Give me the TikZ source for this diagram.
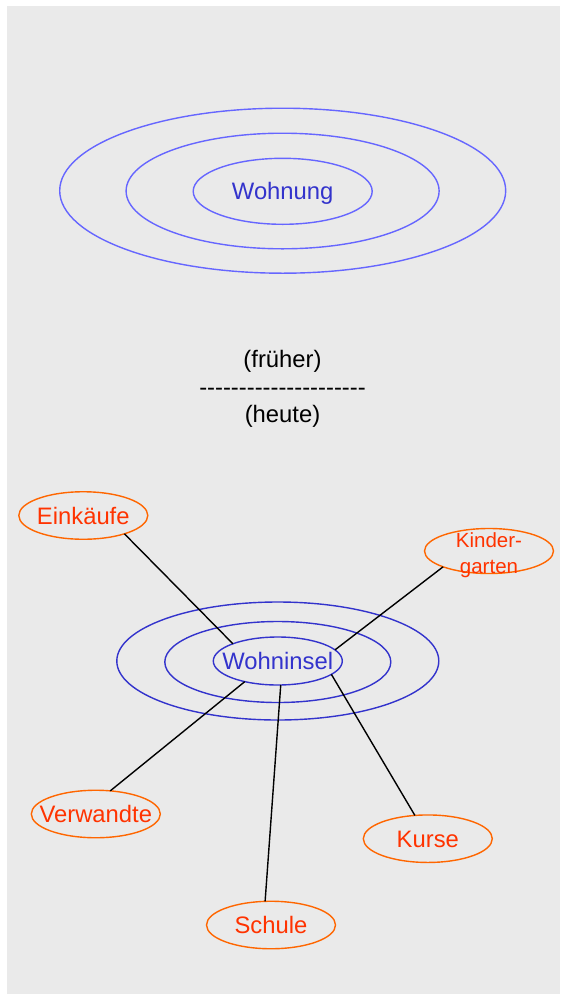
\documentclass[tikz,border=0pt]{standalone}
\usepackage{fontspec}
\newfontfamily\arialfont{Liberation Sans}
\usetikzlibrary{shapes.geometric}
\definecolor{bggray}{HTML}{EAEAEA}
\definecolor{lightblue}{HTML}{6666FF}
\definecolor{darkblue}{HTML}{3333CC}
\definecolor{orangeline}{HTML}{FF6600}
\definecolor{orangetext}{HTML}{FF3300}
\newcommand\zw[1]{\makebox[0pt]{#1}}
\tikzset{
  ring/.style={ellipse, draw, line width=1.4pt, inner sep=0pt, outer sep=0pt, fill=none},
  toprings/.style={ring, draw=lightblue},
  botrings/.style={ring, draw=darkblue},
  bigtext/.style={font=\arialfont\fontsize{23.8}{28}\selectfont, text height=17pt, text depth=0pt},
  topic/.style={ring, bigtext, draw=orangeline, text=orangetext, minimum width=129pt, minimum height=47.5pt},
  caption/.style={font=\arialfont\fontsize{23.8}{28}\selectfont, anchor=base, inner sep=0pt},
  link/.style={line width=1.4pt, black}
}
\begin{document}
\begin{tikzpicture}[x=1pt,y=-1pt]
\useasboundingbox (0,0) rectangle (560,994);
\fill[bggray] (7,6) rectangle (560,994);

% top: Wohnung
\node[toprings, minimum width=446pt, minimum height=165pt] (wA) at (282.7,190.7) {};
\node[toprings, minimum width=313pt, minimum height=115.6pt] (wB) at (282.6,191) {};
\node[toprings, bigtext, minimum width=179pt, minimum height=66pt, text=darkblue] (wC) at (282.7,191.3) {\zw{Wohnung}};

% middle captions
\node[caption] (fr) at (282.5,367.3) {(früher)};
\node[caption] (sep) at (282.5,395) {---------------------};
\node[caption] (he) at (282.5,422.7) {(heute)};

% bottom: Wohninsel
\node[botrings, minimum width=322pt, minimum height=118pt] (iA) at (277.8,661) {};
\node[botrings, minimum width=226pt, minimum height=81pt] (iB) at (277.8,662) {};
\node[botrings, bigtext, minimum width=129pt, minimum height=48pt, text=darkblue] (wi) at (277.8,661) {\zw{Wohninsel}};

% topics
\node[topic] (ein) at (83.3,515.5) {\zw{Einkäufe}};
\node[topic, minimum height=45pt, text height=0pt, text depth=0pt,
  font=\arialfont\fontsize{20.5}{26}\selectfont] (kg) at (489,551)
  {\zw{\raisebox{-22.3pt}{\begin{tabular}[b]{@{}c@{}}Kinder-\\garten\end{tabular}}}};
\node[topic] (ver) at (95.8,814) {\zw{Verwandte}};
\node[topic] (sch) at (271,925) {\zw{Schule}};
\node[topic] (kur) at (427.8,838.7) {\zw{Kurse}};

% links
\draw[link] (ein.-24.9) -- (wi.159);
\draw[link] (kg.199.8) -- (wi.11.2);
\draw[link] (ver.58.8) -- (wi.212.9);
\draw[link] (sch.104) -- (wi.-83.1);
\draw[link] (kur.119.7) -- (wi.-14.6);
\end{tikzpicture}
\end{document}
